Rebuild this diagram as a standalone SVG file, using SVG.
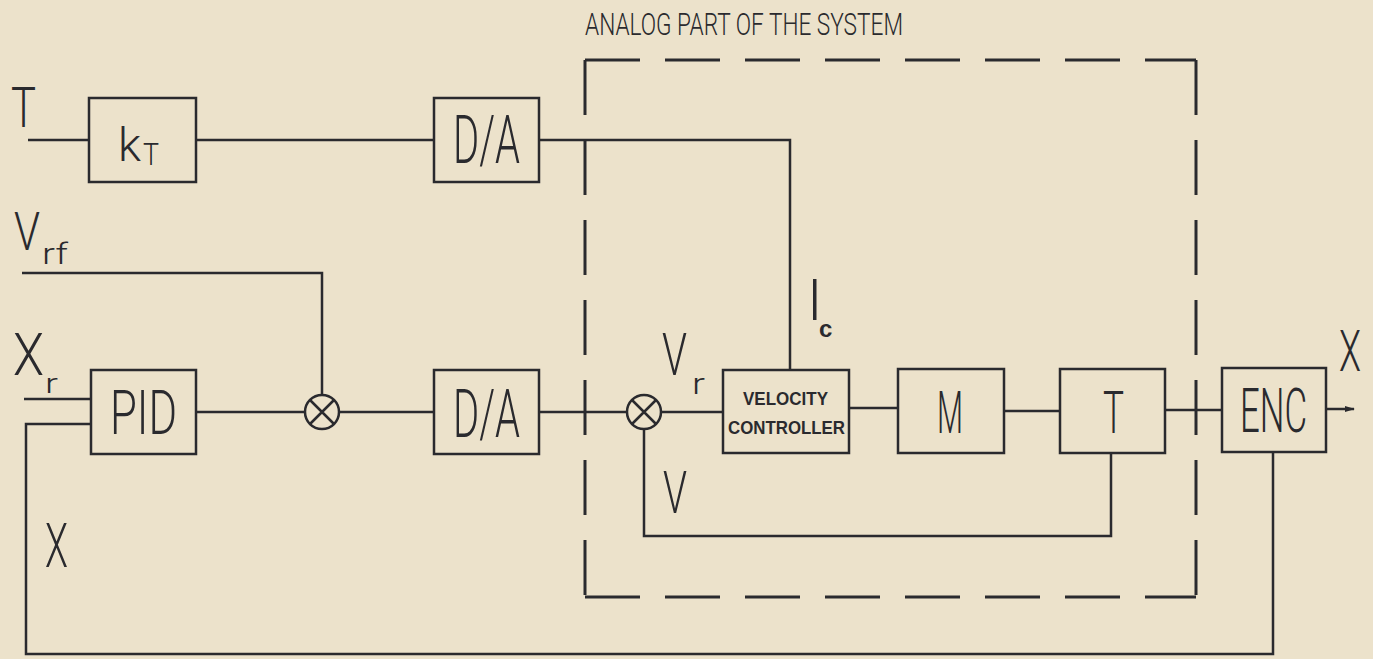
<svg xmlns="http://www.w3.org/2000/svg" width="1373" height="659" viewBox="0 0 1373 659">
<defs>
<style>
.bg{fill:#ece2cb}
.box{fill:none;stroke:#2a2a2e;stroke-width:2.5}
.ln{fill:none;stroke:#2a2a2e;stroke-width:2.5}
.dash{fill:none;stroke:#2a2a2e;stroke-width:3;stroke-dasharray:55 25}
.t{font-family:Roboto,"Liberation Sans",sans-serif;font-weight:300;fill:#2a2a2e}
.tb{font-family:"Liberation Sans",Roboto,sans-serif;font-weight:bold;fill:#2a2a2e}
</style>
<marker id="arr" markerWidth="10" markerHeight="8" refX="9" refY="4" orient="auto" markerUnits="userSpaceOnUse">
<path d="M0,1 L10,4 L0,7 Z" fill="#2a2a2e"/>
</marker>
</defs>
<rect class="bg" x="0" y="0" width="1373" height="659"/>

<g id="analog-boundary">
<path class="dash" d="M585 60 H1196"/>
<path class="dash" d="M1196 60 V597"/>
<path class="dash" d="M585 60 V597"/>
<path class="dash" d="M585 597 H1196"/>
<text class="t" x="585" y="35" font-size="31" textLength="318" lengthAdjust="spacingAndGlyphs">ANALOG PART OF THE SYSTEM</text>
</g>

<g id="connectors">
<path class="ln" d="M28 140 H89"/>
<path class="ln" d="M196 140 H434"/>
<path class="ln" d="M539 140 H790 V370"/>
<path class="ln" d="M22 273 H322 V395"/>
<path class="ln" d="M24 399 H91"/>
<path class="ln" d="M1273 452 V654 H26 V424 H91"/>
<path class="ln" d="M196 412 H305"/>
<path class="ln" d="M339 412 H434"/>
<path class="ln" d="M539 412 H627"/>
<path class="ln" d="M661 412 H723"/>
<path class="ln" d="M849 408 H898"/>
<path class="ln" d="M1004 411 H1060"/>
<path class="ln" d="M1165 410 H1222"/>
<path class="ln" d="M1326 409 H1354" marker-end="url(#arr)"/>
<path class="ln" d="M1111 452 V536 H644 V429"/>
</g>

<g id="labels">
<text class="t" x="11" y="127" font-size="55" textLength="25" lengthAdjust="spacingAndGlyphs">T</text>
<text class="t" font-size="53"><tspan x="14" y="250" textLength="26" lengthAdjust="spacingAndGlyphs">V</tspan><tspan x="42" y="264" font-size="30" textLength="26" lengthAdjust="spacingAndGlyphs">rf</tspan></text>
<text class="t" font-size="60"><tspan x="13" y="375" textLength="31" lengthAdjust="spacingAndGlyphs">X</tspan><tspan x="45" y="393" font-size="27" textLength="13" lengthAdjust="spacingAndGlyphs">r</tspan></text>
<text class="t" x="45" y="567" font-size="62" textLength="23" lengthAdjust="spacingAndGlyphs">X</text>
<text class="t" font-size="59"><tspan x="662" y="375" textLength="25" lengthAdjust="spacingAndGlyphs">V</tspan><tspan x="692" y="394" font-size="30" textLength="13" lengthAdjust="spacingAndGlyphs">r</tspan></text>
<text class="t" x="663" y="513" font-size="60" textLength="24" lengthAdjust="spacingAndGlyphs">V</text>
<text class="t" font-size="58"><tspan x="807" y="320">I</tspan><tspan class="tb" x="819" y="337" font-size="24">c</tspan></text>
<text class="t" x="1339" y="371" font-size="58" textLength="22" lengthAdjust="spacingAndGlyphs">X</text>
</g>

<g id="kT">
<rect class="box" x="89" y="98" width="107" height="84"/>
<text class="t" font-size="46"><tspan x="118" y="161" textLength="23" lengthAdjust="spacingAndGlyphs">k</tspan><tspan x="143" y="165" font-size="31" textLength="16" lengthAdjust="spacingAndGlyphs">T</tspan></text>
</g>

<g id="DA-top">
<rect class="box" x="434" y="98" width="105" height="84"/>
<text class="t" x="453" y="163" font-size="67" textLength="67" lengthAdjust="spacingAndGlyphs">D/A</text>
</g>

<g id="PID">
<rect class="box" x="91" y="370" width="105" height="84"/>
<text class="t" x="110" y="434" font-size="62" textLength="67" lengthAdjust="spacingAndGlyphs">PID</text>
</g>

<g id="sum1">
<circle class="ln" cx="322" cy="412" r="17"/>
<path class="ln" d="M310 400 L334 424 M334 400 L310 424"/>
</g>

<g id="DA-bottom">
<rect class="box" x="434" y="370" width="105" height="84"/>
<text class="t" x="453" y="437" font-size="67" textLength="67" lengthAdjust="spacingAndGlyphs">D/A</text>
</g>

<g id="sum2">
<circle class="ln" cx="644" cy="412" r="17"/>
<path class="ln" d="M632 400 L656 424 M656 400 L632 424"/>
</g>

<g id="velocity-controller">
<rect class="box" x="723" y="370" width="126" height="83"/>
<text class="tb" x="743" y="405" font-size="18" textLength="85" lengthAdjust="spacingAndGlyphs">VELOCITY</text>
<text class="tb" x="728" y="434" font-size="19" textLength="117" lengthAdjust="spacingAndGlyphs">CONTROLLER</text>
</g>

<g id="M">
<rect class="box" x="898" y="369" width="106" height="84"/>
<text class="t" x="937" y="433" font-size="60" textLength="26" lengthAdjust="spacingAndGlyphs">M</text>
</g>

<g id="T">
<rect class="box" x="1060" y="369" width="105" height="84"/>
<text class="t" x="1103" y="433" font-size="60" textLength="21" lengthAdjust="spacingAndGlyphs">T</text>
</g>

<g id="ENC">
<rect class="box" x="1222" y="368" width="104" height="84"/>
<text class="t" x="1240" y="432" font-size="62" textLength="67" lengthAdjust="spacingAndGlyphs">ENC</text>
</g>
</svg>
